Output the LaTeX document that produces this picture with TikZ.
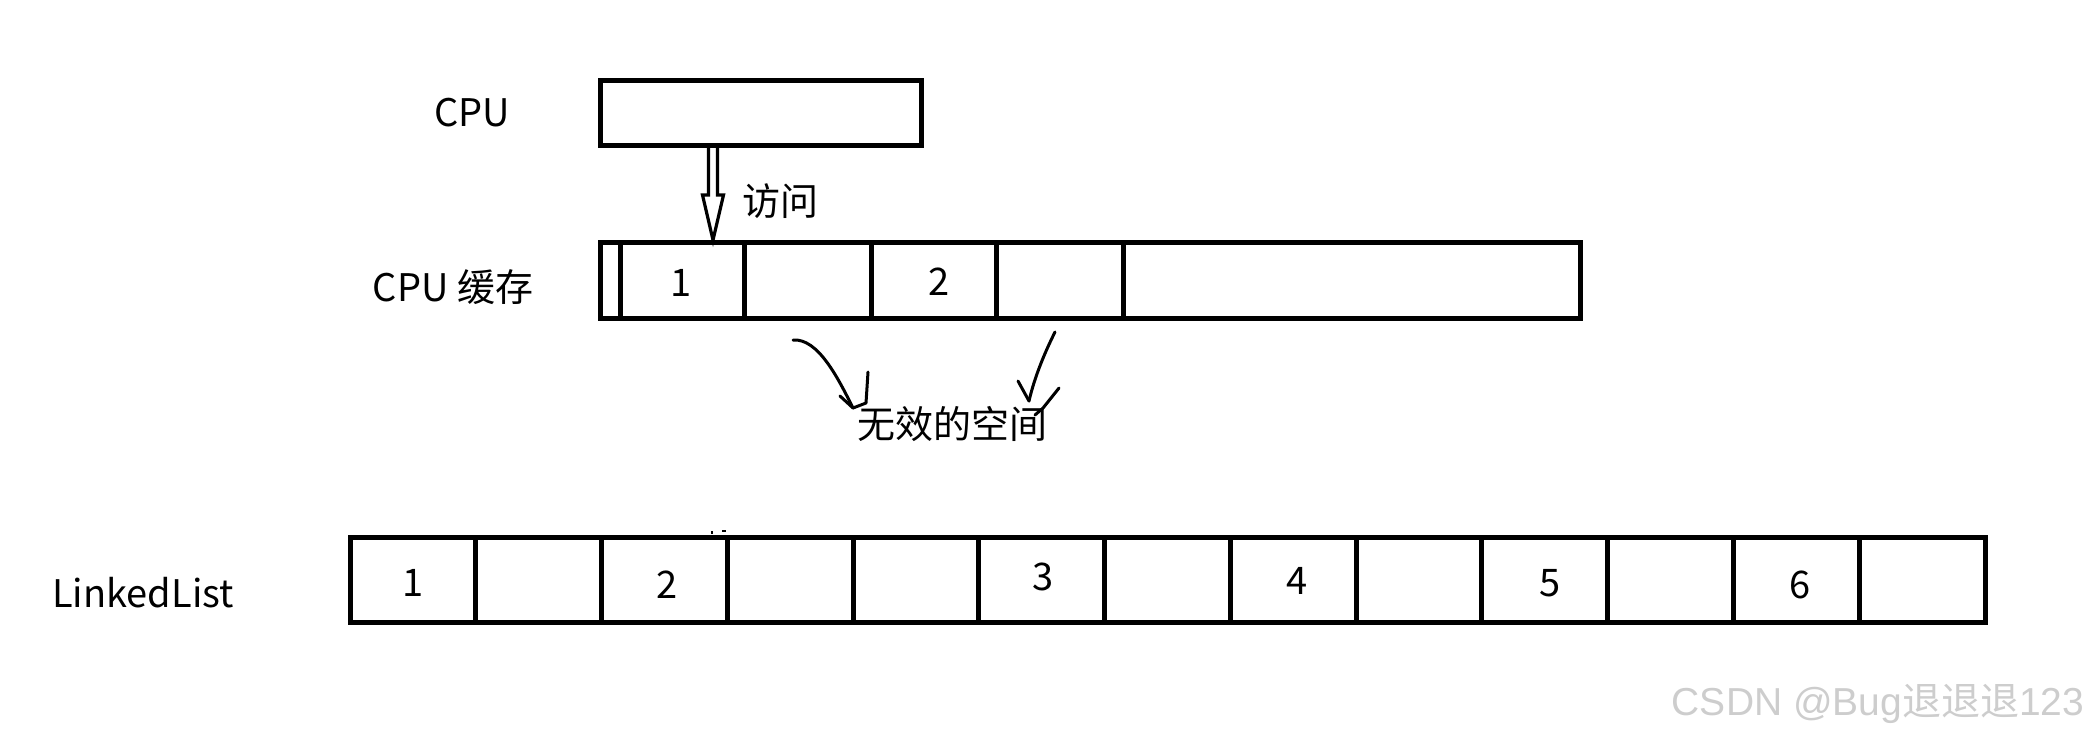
\documentclass[tikz,border=0pt]{standalone}
\usepackage{fontspec}
\setmainfont{Noto Sans CJK SC}
\newfontfamily\wmlatin{Liberation Sans}
\newfontfamily\wmcjk{Noto Sans CJK SC}
\usetikzlibrary{calc}
\begin{document}
\begin{tikzpicture}[x=0.5pt,y=-0.5pt,
  box/.style={draw, line width=2.5pt, inner sep=0pt, outer sep=0pt},
  txt/.style={font=\fontsize{19pt}{22pt}\selectfont, inner sep=0pt},
  cell/.style={box, minimum width=62.885pt, minimum height=42.5pt},
  hand/.style={line width=1.5pt, line cap=round, line join=round},
  arrline/.style={line width=1.6pt, line join=miter}
]
\useasboundingbox (0,0) rectangle (2091,741);

% CPU
\node[txt] (cpulbl) at (472,113) {CPU};
\node[box, minimum width=160.5pt, minimum height=32.5pt] (cpu) at (760.5,112.5) {};

% CPU cache
\node[txt] (cachelbl) at (453,287) {CPU 缓存};
\node[box, minimum width=10pt, minimum height=38pt] (c0) at (610,280) {};
\node[box, minimum width=62pt, minimum height=38pt] (c1) at (682,280) {};
\node[box, minimum width=63.5pt, minimum height=38pt] (c2) at (807.5,280) {};
\node[box, minimum width=62.5pt, minimum height=38pt] (c3) at (933.5,280) {};
\node[box, minimum width=63.5pt, minimum height=38pt] (c4) at (1059.5,280) {};
\node[box, minimum width=228.5pt, minimum height=38pt] (c5) at (1351.5,280) {};
\node[txt] (c1t) at ($(c1.center)+(-1,3)$) {1};
\node[txt] (c3t) at ($(c3.center)+(5.5,2)$) {2};

% access arrow
\path (cpu.south west) ++(113,0) coordinate (as);
\coordinate (ae) at (as |- c1.north);
\draw[arrline] ($(as)+(-4.5,2)$) -- ($(ae)+(-4.5,-47)$) -- ($(ae)+(-10.5,-47)$)
  -- ($(ae)+(0,-2)$) -- ($(ae)+(10.5,-47)$) -- ($(ae)+(4.5,-47)$) -- ($(as)+(4.5,2)$);
\node[txt] (visit) at (780,201) {访问};

% invalid space
\node[txt] (inv) at (952,424) {无效的空间};
\coordinate (l0) at (793,340);
\coordinate (l1) at (853,408);
\draw[hand] (l0) .. controls (818,338) and (838,378) .. (l1);
\draw[hand] (840,396) -- (l1) -- (866,403) -- (868,372);
\coordinate (r0) at (1055,332);
\coordinate (r1) at (1029,401);
\draw[hand] (r0) .. controls (1046,350) and (1035,375) .. (r1);
\draw[hand] (1018,381) -- (r1);
\draw[hand] (1059,388) -- (1043,408) -- (1035,415);

% LinkedList
\node[txt] (lllbl) at (143,593) {LinkedList};
\foreach \i in {1,...,13}
  \node[cell] (ll\i) at ({350+125.77*(\i-0.5)},579.5) {};
\foreach \i/\t/\dx/\dy in {1/1/0/3,3/2/3/5,6/3/1.5/-3,8/4/4/1,10/5/5/4,12/6/4/5}
  \node[txt] (ll\i t) at ($(ll\i.center)+(\dx,\dy)$) {\t};
\draw[line width=1pt] (712,531) -- (712,534) (722,531) -- (726,531);

% watermark
\node[inner sep=0pt, text={rgb,255:red,205;green,205;blue,205},
  font=\fontsize{19.5pt}{22pt}\selectfont] (wm) at (1878,704)
  {\wmlatin CSDN @Bug{\wmcjk 退退退}123};
\end{tikzpicture}
\end{document}
